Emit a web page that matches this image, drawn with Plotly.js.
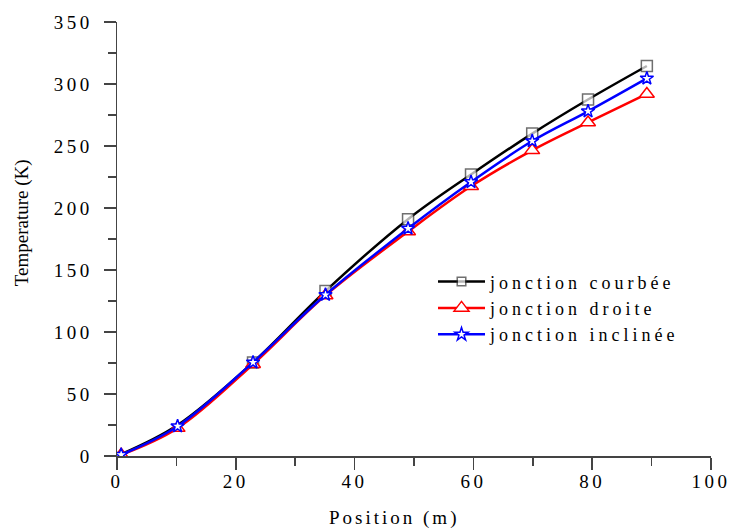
<!DOCTYPE html>
<html><head><meta charset="utf-8">
<script src="https://cdn.plot.ly/plotly-3.0.1.min.js"></script>
<style>
html,body{margin:0;padding:0;background:#fff}
#chart{width:731px;height:532px}
.xtick text,.ytick text{letter-spacing:3.5px}
.legendtext{letter-spacing:4px}
.annotation[data-index="0"] text{letter-spacing:3px}
</style>
</head><body>
<div id="chart"></div>
<script>
// Data
var xCourbee = [0.7, 10.2, 22.9, 35.1, 49.0, 59.6, 69.9, 79.3, 89.2];
var yCourbee = [1.5, 25, 75.5, 133, 191, 227, 260, 287.5, 314.5];
var xDroite  = [0.7, 10.2, 22.9, 35.1, 49.0, 59.6, 69.9, 79.3, 89.2];
var yDroite  = [1, 22.5, 74, 129.5, 181, 217.5, 246.5, 269, 292];
var xInclinee = [0.7, 10.2, 22.9, 35.1, 49.0, 59.6, 69.9, 79.3, 89.2];
var yInclinee = [1, 24, 75.5, 130, 183.5, 221, 254, 278, 304.5];
var courbeeMarkerShown = [0, 0, 1, 1, 1, 1, 1, 1, 1];
var xTickVals = [0, 20, 40, 60, 80, 100];
var yTickVals = [0, 50, 100, 150, 200, 250, 300, 350];
var seriesNames = ['jonction courbée', 'jonction droite', 'jonction inclinée'];
var xTitle = 'Position (m)';
var yTitle = 'Temperature (K)';

var serif = 'Liberation Serif, Times New Roman, serif';

var traces = [
  {x: xCourbee, y: yCourbee, name: seriesNames[0], mode: 'lines+markers',
   line: {color: '#000000', width: 2.5, shape: 'spline', smoothing: 1},
   marker: {symbol: 'square', size: courbeeMarkerShown.map(function(v){return v ? 11 : 0;}),
            color: '#ffffff', line: {color: '#333333', width: 1.5}}},
  {x: xDroite, y: yDroite, name: seriesNames[1], mode: 'lines+markers',
   line: {color: '#ff0000', width: 2.5, shape: 'spline', smoothing: 1},
   marker: {symbol: 'triangle-up', size: 13, color: '#ffffff', line: {color: '#ff0000', width: 1.5}}},
  {x: xInclinee, y: yInclinee, name: seriesNames[2], mode: 'lines+markers',
   line: {color: '#0000ff', width: 2.5, shape: 'spline', smoothing: 1},
   marker: {symbol: 'star', size: 10, color: '#ffffff', line: {color: '#0000ff', width: 1.5}}}
];

var axisCommon = {
  showgrid: false, zeroline: false, showline: true, linecolor: '#444', linewidth: 1.5,
  ticks: 'outside', ticklen: 12, tickwidth: 1.5, tickcolor: '#444',
  ticklabeloverflow: 'allow',
  tickfont: {family: serif, size: 19, color: '#000'},
  minor: {ticks: 'outside', ticklen: 8, tickwidth: 1.5, tickcolor: '#444'}
};

var layout = {
  width: 731, height: 532,
  margin: {l: 117, r: 20, t: 21.5, b: 76, pad: 0},
  paper_bgcolor: '#fff', plot_bgcolor: '#fff',
  font: {family: serif, color: '#000'},
  showlegend: true,
  legend: {x: 0.532, y: 0.444, xanchor: 'left', yanchor: 'top',
           font: {family: serif, size: 18, color: '#000'},
           bgcolor: 'rgba(0,0,0,0)', borderwidth: 0, itemwidth: 47, tracegroupgap: 0},
  xaxis: Object.assign({}, axisCommon, {range: [0, 100], tickmode: 'array', tickvals: xTickVals,
           ticklabelstandoff: -4, minor: Object.assign({}, axisCommon.minor, {dtick: 10, tick0: 0})}),
  yaxis: Object.assign({}, axisCommon, {range: [0, 350], tickmode: 'array', tickvals: yTickVals,
           ticklabelstandoff: 7, minor: Object.assign({}, axisCommon.minor, {dtick: 25, tick0: 0})}),
  annotations: [
    {text: xTitle, xref: 'paper', yref: 'paper', x: 0.466, y: -0.142,
     xanchor: 'center', yanchor: 'middle', showarrow: false,
     font: {family: serif, size: 19, color: '#000'}},
    {text: yTitle, xref: 'paper', yref: 'paper', x: -0.16, y: 0.5386,
     xanchor: 'center', yanchor: 'middle', showarrow: false, textangle: -90,
     font: {family: serif, size: 19, color: '#000'}}
  ]
};

Plotly.newPlot('chart', traces, layout, {staticPlot: true, displayModeBar: false});
</script>
</body></html>
